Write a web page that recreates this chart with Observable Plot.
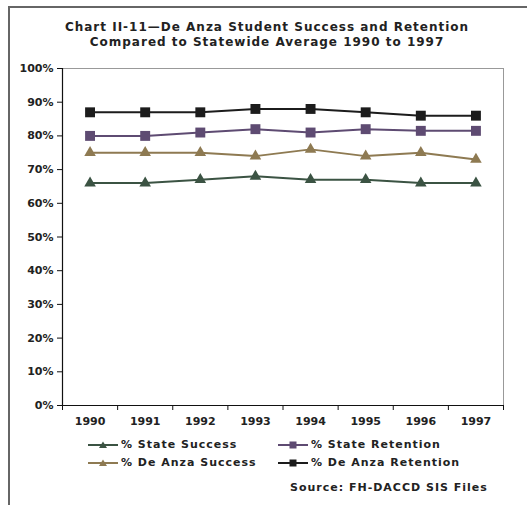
<!DOCTYPE html>
<html>
<head>
<meta charset="utf-8">
<script src="https://cdn.jsdelivr.net/npm/d3@7"></script>
<script src="https://cdn.jsdelivr.net/npm/@observablehq/plot@0.6"></script>
<style>
  html, body { margin: 0; padding: 0; background: #fff; }
  #wrap { position: relative; width: 527px; height: 505px; overflow: hidden; font-family: "DejaVu Sans", sans-serif; font-weight: bold; color: #222; }
  #frame { position: absolute; left: 8px; top: 6px; width: 600px; height: 600px; border-left: 2px solid #666; border-top: 2px solid #666; }
  #title { position: absolute; left: 0; width: 534px; top: 20px; text-align: center; font-size: 12px; line-height: 15px; letter-spacing: 1px; }
  #chart { position: absolute; left: 0; top: 0; }
  .leg { position: absolute; font-size: 11px; display: flex; align-items: center; white-space: nowrap; letter-spacing: 1px; }
  .leg svg { margin-right: 3px; }
  #source { position: absolute; left: 290px; top: 481px; font-size: 11px; letter-spacing: 1px; }
</style>
</head>
<body>
<div id="wrap">
  <div id="frame"></div>
  <div id="chart"></div>
  <div id="title">Chart II-11—De Anza Student Success and Retention<br>Compared to Statewide Average 1990 to 1997</div>
  <div id="legend"></div>
  <div id="source">Source: FH-DACCD SIS Files</div>
</div>
<script>
const years = [1990, 1991, 1992, 1993, 1994, 1995, 1996, 1997];
const yTicks = [0, 10, 20, 30, 40, 50, 60, 70, 80, 90, 100];
const seriesNames = ["% State Success", "% State Retention", "% De Anza Success", "% De Anza Retention"];
const seriesColors = ["#3b5343", "#5e4b72", "#8e7a52", "#1c1c1c"];
const seriesSymbols = ["triangle", "square", "triangle", "square"];
const stateSuccess = [66, 66, 67, 68, 67, 67, 66, 66];
const stateRetention = [80, 80, 81, 82, 81, 82, 81.5, 81.5];
const deAnzaSuccess = [75, 75, 75, 74, 76, 74, 75, 73];
const deAnzaRetention = [87, 87, 87, 88, 88, 87, 86, 86];

const seriesValues = [stateSuccess, stateRetention, deAnzaSuccess, deAnzaRetention];
const rows = [];
seriesNames.forEach((name, s) => {
  years.forEach((yr, i) => rows.push({year: yr, value: seriesValues[s][i], name, symbol: seriesSymbols[s]}));
});
const boundaries = [years[0] - 0.5, ...years.map(y => y + 0.5)];
const x0 = years[0] - 0.5, x1 = years[years.length - 1] + 0.5;

const plot = Plot.plot({
  width: 527,
  height: 505,
  marginLeft: 62,
  marginRight: 24,
  marginTop: 68,
  marginBottom: 100,
  style: {fontFamily: "DejaVu Sans", fontWeight: "bold", fontSize: "11px", color: "#222", background: "transparent", overflow: "visible"},
  x: {domain: [x0, x1], axis: null, label: null},
  y: {domain: [0, 100], axis: null, label: null},
  color: {domain: seriesNames, range: seriesColors},
  marks: [
    Plot.ruleY([100], {stroke: "#999", strokeWidth: 1}),
    Plot.ruleX([x1], {stroke: "#999", strokeWidth: 1}),
    Plot.axisY({ticks: yTicks, tickFormat: d => d + "%", tickSize: 5, tickPadding: 4, stroke: "#111", fill: "#222", label: null}),
    Plot.axisX({ticks: boundaries, tickFormat: () => "", tickSize: 5, stroke: "#111", label: null}),
    Plot.axisX({ticks: years, tickFormat: d => String(d), tickSize: 0, tickPadding: 12, fill: "#222", label: null, style: {letterSpacing: "0.5px"}}),
    Plot.ruleX([x0], {stroke: "#111", strokeWidth: 1.2}),
    Plot.ruleY([0], {stroke: "#111", strokeWidth: 1.2}),
    Plot.line(rows, {x: "year", y: "value", z: "name", stroke: "name", strokeWidth: 2}),
    Plot.dot(rows.filter(d => d.symbol === "triangle"), {x: "year", y: "value", symbol: "triangle", r: 4.3, fill: "name"}),
    Plot.dot(rows.filter(d => d.symbol === "square"), {x: "year", y: "value", symbol: "square", r: 5.6, fill: "name"})
  ]
});
document.getElementById("chart").appendChild(plot);

const legendPos = [[88, 445], [278, 445], [88, 463], [278, 463]];
const legend = document.getElementById("legend");
seriesNames.forEach((name, i) => {
  const el = document.createElement("div");
  el.className = "leg";
  el.style.left = legendPos[i][0] + "px";
  el.style.top = (legendPos[i][1] - 7) + "px";
  const c = seriesColors[i];
  const marker = seriesSymbols[i] === "triangle"
    ? `<polygon points="15,1.5 19,8 11,8" fill="${c}"/>`
    : `<rect x="11.5" y="1.5" width="7" height="7" fill="${c}"/>`;
  el.innerHTML = `<svg width="30" height="10"><line x1="0" x2="30" y1="5" y2="5" stroke="${c}" stroke-width="2"/>${marker}</svg><span>${name}</span>`;
  legend.appendChild(el);
});
</script>
</body>
</html>
